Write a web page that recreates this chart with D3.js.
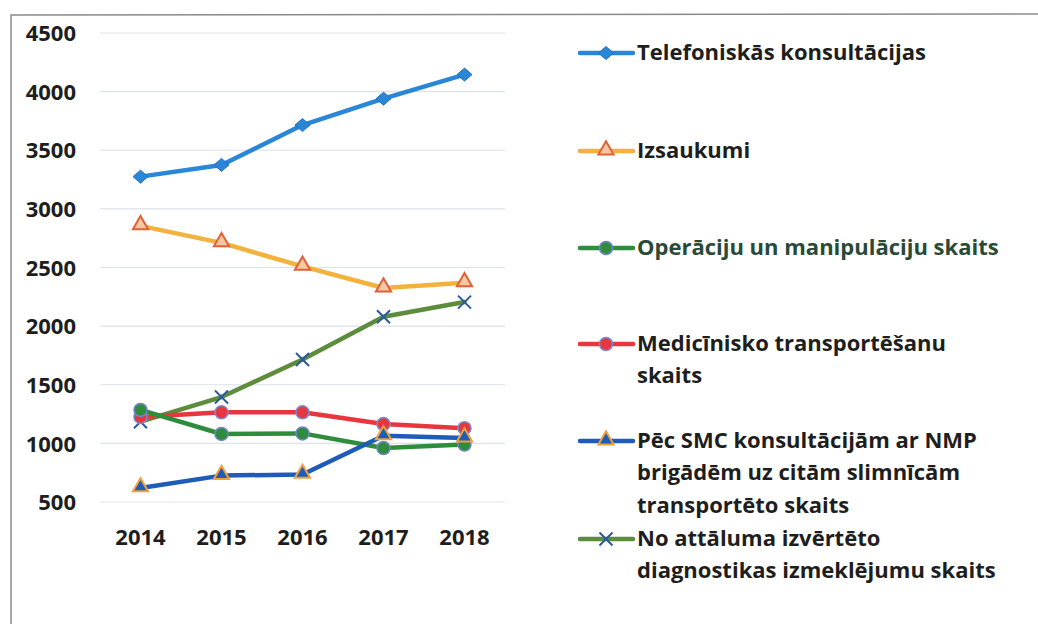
<!DOCTYPE html>
<head>
<meta charset="utf-8">
<title>NMP dienesta rādītāji 2014-2018</title>
<script src="https://d3js.org/d3.v7.min.js"></script>
</head>

<style>
body { margin: 0; background: #ffffff; }
svg text { font-family: "Open Sans", "Noto Sans", sans-serif; font-weight: bold; fill: #1e1e1e; }
</style>

<body>
 <svg class="chart"></svg>
</body>

<script>

// data
var years = ["2014", "2015", "2016", "2017", "2018"];
var yTicks = [500, 1000, 1500, 2000, 2500, 3000, 3500, 4000, 4500];

var telefoniskas = [3275, 3375, 3715, 3940, 4145];
var izsaukumi = [2855, 2710, 2510, 2325, 2370];
var operacijas = [1285, 1080, 1085, 960, 990];
var transportesana = [1225, 1265, 1265, 1165, 1130];
var pecSMC = [620, 725, 735, 1065, 1045];
var attalums = [1185, 1395, 1715, 2080, 2205];

var seriesNames = [
	["Telefoniskās konsultācijas"],
	["Izsaukumi"],
	["Operāciju un manipulāciju skaits"],
	["Medicīnisko transportēšanu", "skaits"],
	["Pēc SMC konsultācijām ar NMP", "brigādēm uz citām slimnīcām", "transportēto skaits"],
	["No attāluma izvērtēto", "diagnostikas izmeklējumu skaits"]
];

var series = [
	{ name: seriesNames[0], values: telefoniskas, color: "#2a87d8", marker: "diamond", mfill: "#2a87d8", mstroke: "#2a6fc8" },
	{ name: seriesNames[1], values: izsaukumi, color: "#f2b23c", marker: "triangle", mfill: "#f6c8a0", mstroke: "#e0603a" },
	{ name: seriesNames[2], values: operacijas, color: "#2f8c3c", marker: "circle", mfill: "#2f8c3c", mstroke: "#6f86c8" },
	{ name: seriesNames[3], values: transportesana, color: "#e8363e", marker: "circle", mfill: "#e8363e", mstroke: "#7a8ad0" },
	{ name: seriesNames[4], values: pecSMC, color: "#1f5cb8", marker: "triangle", mfill: "#1f5cb8", mstroke: "#f0a040" },
	{ name: seriesNames[5], values: attalums, color: "#5c8c3c", marker: "cross", mfill: "none", mstroke: "#2a5a9a" }
];

// draw order: later lines on top
var drawOrder = [5, 1, 0, 3, 2, 4];

var width = 1038;
var height = 624;

var svg = d3.select(".chart")
	.attr("width", width)
	.attr("height", height);

// scanned page frame
svg.append("path")
	.attr("d", "M11,624 L11,15 L1038,14")
	.attr("fill", "none")
	.attr("stroke", "#8a8a8a")
	.attr("stroke-width", 1.5);

var xChart = d3.scaleBand()
	.domain(years)
	.range([100, 505]);

var yChart = d3.scaleLinear()
	.domain([500, 4500])
	.range([502, 33]);

// gridlines
svg.append("g")
	.selectAll("line")
	.data(yTicks)
	.enter()
	.append("line")
	.attr("x1", 100)
	.attr("x2", 505)
	.attr("y1", function(d){ return yChart(d); })
	.attr("y2", function(d){ return yChart(d); })
	.attr("stroke", "#dde2e8")
	.attr("stroke-width", 1.2);

// left axis
var yAxis = d3.axisLeft(yChart).tickValues(yTicks).tickFormat(d3.format("d")).tickSize(0).tickPadding(0);
var yg = svg.append("g")
	.attr("transform", "translate(76,0)")
	.call(yAxis);
yg.select(".domain").remove();
yg.selectAll("text").style("font-size", "22px").attr("dy", "0.35em");

// bottom axis
var xAxis = d3.axisBottom(xChart).tickSize(0).tickPadding(0);
var xg = svg.append("g")
	.attr("transform", "translate(0,530)")
	.call(xAxis);
xg.select(".domain").remove();
xg.selectAll("text").style("font-size", "22px").attr("dy", "0.7em");

function cx(i) { return xChart(years[i]) + xChart.bandwidth() / 2; }

var line = d3.line()
	.x(function(d, i){ return cx(i); })
	.y(function(d){ return yChart(d); });

function drawMarker(g, type, x, y, fill, stroke) {
	if (type == "diamond") {
		g.append("path")
			.attr("d", "M0,-6.5L7.5,0L0,6.5L-7.5,0Z")
			.attr("transform", "translate(" + x + "," + y + ")")
			.attr("fill", fill).attr("stroke", stroke).attr("stroke-width", 1);
	} else if (type == "triangle") {
		g.append("path")
			.attr("d", d3.symbol().type(d3.symbolTriangle).size(100)())
			.attr("transform", "translate(" + x + "," + (y - 1) + ")")
			.attr("fill", fill).attr("stroke", stroke).attr("stroke-width", 2);
	} else if (type == "circle") {
		g.append("circle")
			.attr("cx", x).attr("cy", y).attr("r", 6.5)
			.attr("fill", fill).attr("stroke", stroke).attr("stroke-width", 1.5);
	} else {
		g.append("path")
			.attr("d", "M-6.5,-6.5L6.5,6.5M-6.5,6.5L6.5,-6.5")
			.attr("transform", "translate(" + x + "," + y + ")")
			.attr("fill", "none").attr("stroke", stroke).attr("stroke-width", 2);
	}
}

var plot = svg.append("g");
drawOrder.forEach(function(k) {
	var s = series[k];
	plot.append("path")
		.datum(s.values)
		.attr("d", line)
		.attr("fill", "none")
		.attr("stroke", s.color)
		.attr("stroke-width", 4.5)
		.attr("stroke-linejoin", "round")
		.attr("stroke-linecap", "round");
	s.values.forEach(function(v, i) {
		drawMarker(plot, s.marker, cx(i), yChart(v), s.mfill, s.mstroke);
	});
});

// legend
var legendY = [52, 150, 247, 343, 440, 538];
var lineGap = 32.5;
var legend = svg.append("g");
series.forEach(function(s, k) {
	var y = legendY[k];
	legend.append("line")
		.attr("x1", 580).attr("x2", 633)
		.attr("y1", y + 1).attr("y2", y + 1)
		.attr("stroke", s.color)
		.attr("stroke-width", 4.5)
		.attr("stroke-linecap", "round");
	drawMarker(legend, s.marker, 606, y + 1, s.mfill, s.mstroke);
	var t = legend.append("text")
		.style("font-size", "22px");
	if (k == 2) t.style("fill", "#2a4a38");
	s.name.forEach(function(part, j) {
		t.append("tspan")
			.attr("x", 637)
			.attr("y", y + j * lineGap)
			.attr("dy", "0.35em")
			.text(part);
	});
});

</script>
